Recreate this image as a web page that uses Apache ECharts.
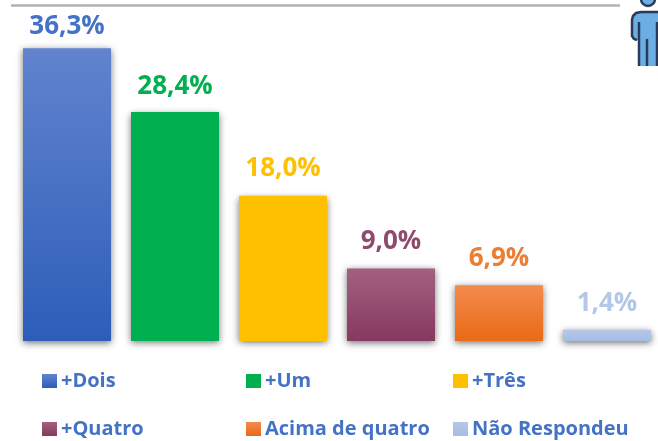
<!DOCTYPE html>
<html><head><meta charset="utf-8">
<style>html,body{margin:0;padding:0;background:#fff;overflow:hidden}#c{width:670px;height:441px}</style>
<script src="https://cdn.jsdelivr.net/npm/echarts@6/dist/echarts.min.js"></script>
</head><body><div id="c"></div>
<script>
const categories = ['+Dois','+Um','+Três','+Quatro','Acima de quatro','Não Respondeu'];
const values = [36.3,28.4,18.0,9.0,6.9,1.4];
const gradTop = ['#6283ce','#00b050','#ffc000','#a4607f','#f38b4f','#b6c8e9'];
const gradBottom = ['#2c5eb9','#00b050','#ffc000','#853a60','#e96a15','#a6bce3'];
const labelColors = ['#4472c4','#00b050','#ffc000','#8f4a6e','#ed7d31','#b4c7e7'];
const labelGap = [9,12,14,14,14,13];
const legendLeft = [38,242,449,38,242,449];
const legendTop = [371,371,371,419,419,419];
const FONT = '"Open Sans","Noto Sans",sans-serif';
const grad = i => new echarts.graphic.LinearGradient(0,0,0,1,[{offset:0,color:gradTop[i]},{offset:1,color:gradBottom[i]}]);
const armOutline = [[637,40],[634,39],[632,36],[632,20],[633,16],[636,13],[641,12],[662,12]];
const bodyFill = [[639,66],[639,40],[637,40],[634,39],[632,36],[632,20],[633,16],[636,13],[641,12],[662,12],[662,66]];
const chart = echarts.init(document.getElementById('c'),null,{renderer:'canvas'});
chart.setOption({
  animation:false,
  backgroundColor:'#fff',
  grid:{left:13,width:648,top:7,height:334,containLabel:false},
  xAxis:{type:'category',data:categories,axisLine:{show:false},axisTick:{show:false},axisLabel:{show:false}},
  yAxis:{type:'value',min:0,max:41.4,axisLine:{show:false},axisTick:{show:false},axisLabel:{show:false},splitLine:{show:false}},
  legend:categories.map((c,i)=>({
    data:[c],left:legendLeft[i],top:legendTop[i],padding:[0,0,0,4],
    itemWidth:15,itemHeight:14,itemGap:0,icon:'rect',
    textStyle:{color:'#4472c4',fontFamily:FONT,fontWeight:'bold',fontSize:20,padding:[0,0,0,-1]},
    selectedMode:false
  })),
  series:categories.map((c,k)=>({
    name:c,type:'bar',stack:'all',barWidth:88,
    data:values.map((v,i)=>i===k?v:null),
    itemStyle:{color:grad(k),shadowColor:'rgba(0,0,0,0.55)',shadowBlur:7,shadowOffsetX:0,shadowOffsetY:2},
    label:{show:true,position:'top',distance:labelGap[k],color:labelColors[k],fontFamily:FONT,fontWeight:'bold',fontSize:26,
      formatter:p=>p.value==null?'':p.value.toFixed(1).replace('.',',')+'%'}
  })),
  graphic:[
    {type:'line',shape:{x1:11,y1:5.5,x2:620,y2:5.5},style:{stroke:'#b6b0b1',lineWidth:2.5},silent:true},
    {type:'circle',shape:{cx:648,cy:-1,r:7},style:{fill:'#6aaee4',stroke:'#2b3a58',lineWidth:2.5},silent:true},
    {type:'polygon',shape:{points:bodyFill},style:{fill:'#6aaee4',stroke:'none'},silent:true},
    {type:'polyline',shape:{points:armOutline},style:{fill:'none',stroke:'#2b3a58',lineWidth:2.5},silent:true},
    {type:'line',shape:{x1:639,y1:22,x2:639,y2:66},style:{stroke:'#2b3a58',lineWidth:2.5},silent:true},
    {type:'line',shape:{x1:647,y1:39,x2:647,y2:66},style:{stroke:'#2b3a58',lineWidth:2.5},silent:true},
    {type:'line',shape:{x1:657,y1:22,x2:657,y2:66},style:{stroke:'#2b3a58',lineWidth:2.5},silent:true}
  ]
});
</script></body></html>
